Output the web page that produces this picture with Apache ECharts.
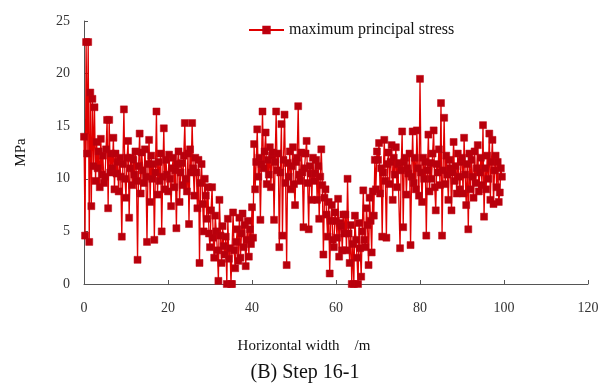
<!DOCTYPE html>
<html>
<head>
<meta charset="utf-8">
<script src="https://cdn.jsdelivr.net/npm/echarts@6/dist/echarts.min.js"></script>
<style>
  html, body { margin: 0; padding: 0; background: #fff; }
  #chart { width: 605px; height: 385px; }
</style>
</head>
<body>
<div id="chart"></div>
<script>
// 水平位置 (m)
const widthM = [
  0, 0.25, 0.5, 0.75, 1, 1.25, 1.5, 1.75, 2, 2.25, 2.5, 2.75, 3, 3.25, 3.5, 3.75, 4, 4.25, 4.5, 4.75,
  5, 5.25, 5.5, 5.75, 6, 6.25, 6.5, 6.75, 7, 7.25, 7.5, 7.75, 8, 8.25, 8.5, 8.75, 9, 9.25, 9.5, 9.75,
  10, 10.25, 10.5, 10.75, 11, 11.25, 11.5, 11.75, 12, 12.25, 12.5, 12.75, 13, 13.25, 13.5, 13.75, 14, 14.25, 14.5, 14.75,
  15, 15.25, 15.5, 15.75, 16, 16.25, 16.5, 16.75, 17, 17.25, 17.5, 17.75, 18, 18.25, 18.5, 18.75, 19, 19.25, 19.5, 19.75,
  20, 20.25, 20.5, 20.75, 21, 21.25, 21.5, 21.75, 22, 22.25, 22.5, 22.75, 23, 23.25, 23.5, 23.75, 24, 24.25, 24.5, 24.75,
  25, 25.25, 25.5, 25.75, 26, 26.25, 26.5, 26.75, 27, 27.25, 27.5, 27.75, 28, 28.25, 28.5, 28.75, 29, 29.25, 29.5, 29.75,
  30, 30.25, 30.5, 30.75, 31, 31.25, 31.5, 31.75, 32, 32.25, 32.5, 32.75, 33, 33.25, 33.5, 33.75, 34, 34.25, 34.5, 34.75,
  35, 35.25, 35.5, 35.75, 36, 36.25, 36.5, 36.75, 37, 37.25, 37.5, 37.75, 38, 38.25, 38.5, 38.75, 39, 39.25, 39.5, 39.75,
  40, 40.25, 40.5, 40.75, 41, 41.25, 41.5, 41.75, 42, 42.25, 42.5, 42.75, 43, 43.25, 43.5, 43.75, 44, 44.25, 44.5, 44.75,
  45, 45.25, 45.5, 45.75, 46, 46.25, 46.5, 46.75, 47, 47.25, 47.5, 47.75, 48, 48.25, 48.5, 48.75, 49, 49.25, 49.5, 49.75,
  50, 50.25, 50.5, 50.75, 51, 51.25, 51.5, 51.75, 52, 52.25, 52.5, 52.75, 53, 53.25, 53.5, 53.75, 54, 54.25, 54.5, 54.75,
  55, 55.25, 55.5, 55.75, 56, 56.25, 56.5, 56.75, 57, 57.25, 57.5, 57.75, 58, 58.25, 58.5, 58.75, 59, 59.25, 59.5, 59.75,
  60, 60.25, 60.5, 60.75, 61, 61.25, 61.5, 61.75, 62, 62.25, 62.5, 62.75, 63, 63.25, 63.5, 63.75, 64, 64.25, 64.5, 64.75,
  65, 65.25, 65.5, 65.75, 66, 66.25, 66.5, 66.75, 67, 67.25, 67.5, 67.75, 68, 68.25, 68.5, 68.75, 69, 69.25, 69.5, 69.75,
  70, 70.25, 70.5, 70.75, 71, 71.25, 71.5, 71.75, 72, 72.25, 72.5, 72.75, 73, 73.25, 73.5, 73.75, 74, 74.25, 74.5, 74.75,
  75, 75.25, 75.5, 75.75, 76, 76.25, 76.5, 76.75, 77, 77.25, 77.5, 77.75, 78, 78.25, 78.5, 78.75, 79, 79.25, 79.5, 79.75,
  80, 80.25, 80.5, 80.75, 81, 81.25, 81.5, 81.75, 82, 82.25, 82.5, 82.75, 83, 83.25, 83.5, 83.75, 84, 84.25, 84.5, 84.75,
  85, 85.25, 85.5, 85.75, 86, 86.25, 86.5, 86.75, 87, 87.25, 87.5, 87.75, 88, 88.25, 88.5, 88.75, 89, 89.25, 89.5, 89.75,
  90, 90.25, 90.5, 90.75, 91, 91.25, 91.5, 91.75, 92, 92.25, 92.5, 92.75, 93, 93.25, 93.5, 93.75, 94, 94.25, 94.5, 94.75,
  95, 95.25, 95.5, 95.75, 96, 96.25, 96.5, 96.75, 97, 97.25, 97.5, 97.75, 98, 98.25, 98.5, 98.75, 99, 99.25, 99.5
]

// 最大主应力 (MPa)
const maxStress = [
  14.0, 4.6, 23.0, 12.4, 23.0, 4.0, 18.2, 7.4, 17.6, 11.2, 16.8, 9.8, 13.5, 11.0, 12.6, 9.2, 13.8, 10.4, 12.2, 9.6,
  10.2, 12.8, 15.6, 7.2, 15.6, 10.6, 12.4, 11.0, 13.9, 9.0, 12.4, 10.5, 11.6, 8.8, 12.0, 10.2, 4.5, 11.4, 16.6, 10.0,
  8.2, 12.0, 13.6, 6.3, 11.0, 12.0, 9.4, 11.8, 10.4, 12.6, 9.8, 2.3, 11.2, 14.3, 8.6, 12.5, 10.8, 9.6, 12.8, 10.2,
  4.0, 11.4, 13.7, 7.8, 12.2, 10.0, 11.4, 4.2, 10.6, 16.4, 8.5, 11.6, 9.8, 12.4, 5.0, 10.2, 14.8, 9.0, 11.8, 10.4,
  8.8, 12.3, 10.0, 7.4, 11.0, 12.0, 9.2, 10.8, 5.3, 11.4, 12.6, 7.8, 10.6, 11.5, 9.4, 12.2, 15.3, 10.0, 8.8, 12.4,
  5.7, 12.8, 10.6, 15.3, 11.0, 8.4, 12.0, 10.6, 7.2, 11.8, 2.0, 9.6, 11.4, 7.6, 5.0, 10.0, 8.4, 6.2, 9.2, 4.8,
  3.5, 7.0, 9.2, 4.4, 2.5, 6.5, 5.0, 3.2, 0.3, 8.0, 4.6, 2.0, 5.5, 3.6, 2.8, 4.5, 0.0, 6.2, 2.4, 3.4,
  0.0, 0.0, 6.8, 3.2, 1.5, 4.0, 5.2, 2.2, 6.3, 2.5, 4.8, 6.7, 3.5, 5.6, 1.7, 4.2, 6.0, 2.6, 5.2, 3.8,
  7.3, 4.4, 13.3, 9.0, 11.6, 14.7, 10.2, 12.0, 6.1, 11.4, 16.4, 11.0, 12.6, 14.4, 9.5, 11.8, 10.4, 13.0, 9.2, 12.2,
  12.5, 6.1, 11.6, 16.4, 10.8, 12.4, 3.5, 10.6, 15.2, 4.6, 11.8, 16.1, 9.6, 1.8, 11.5, 10.2, 12.6, 9.0, 11.2, 13.0,
  9.5, 7.5, 11.6, 12.0, 16.9, 10.4, 9.8, 12.5, 10.6, 5.4, 11.0, 12.4, 13.6, 9.6, 5.2, 11.2, 10.5, 8.0, 12.0, 9.8,
  10.5, 11.8, 8.0, 11.2, 6.2, 10.2, 12.8, 9.4, 2.8, 8.2, 9.0, 6.6, 4.5, 7.8, 1.0, 6.0, 7.5, 4.2, 3.5, 6.8,
  6.0, 4.4, 8.1, 2.6, 5.8, 5.5, 3.2, 6.6, 4.8, 6.6, 3.2, 10.0, 4.8, 2.0, 5.6, 0.0, 3.8, 0.0, 6.5, 4.2,
  2.5, 0.0, 5.8, 3.4, 0.7, 5.0, 8.9, 4.2, 3.5, 7.2, 5.6, 1.8, 8.2, 6.0, 3.0, 8.8, 6.5, 11.8, 9.0, 12.6,
  11.8, 13.4, 8.6, 11.0, 4.5, 10.6, 13.7, 9.8, 4.4, 11.4, 12.5, 9.5, 11.6, 13.2, 8.0, 12.0, 10.4, 13.0, 9.2, 11.4,
  11.5, 3.4, 10.8, 14.5, 5.4, 11.6, 12.0, 8.5, 11.0, 10.5, 12.4, 3.7, 10.2, 14.5, 9.6, 12.0, 9.0, 14.6, 11.0, 8.4,
  19.5, 10.6, 7.8, 12.0, 10.0, 11.6, 4.6, 10.8, 14.2, 8.8, 11.5, 10.0, 12.4, 14.6, 9.2, 7.0, 11.4, 10.6, 12.8, 9.4,
  17.2, 4.6, 10.8, 15.8, 9.5, 12.2, 10.4, 8.0, 11.8, 11.0, 7.0, 10.6, 13.5, 9.8, 11.2, 8.6, 12.4, 10.2, 9.0, 11.6,
  12.0, 8.6, 13.9, 10.4, 7.5, 11.4, 5.2, 12.4, 9.0, 11.8, 10.2, 8.2, 12.6, 9.6, 11.0, 13.2, 8.8, 10.6, 12.0, 9.4,
  15.1, 6.4, 11.0, 9.0, 12.2, 10.0, 14.3, 8.0, 11.6, 13.7, 7.6, 10.8, 12.2, 9.2, 11.6, 7.8, 8.7, 11.0, 10.2
]

const seriesName = 'maximum principal stress'
const SERIF = '"Liberation Serif", "Times New Roman", serif'

const chart = echarts.init(document.getElementById('chart'))

chart.setOption({
    animation: false,
    backgroundColor: '#fff',
    title: {
        text: '(B) Step 16-1',
        left: 300,
        textAlign: 'center',
        top: 358,
        textStyle: { fontFamily: SERIF, fontSize: 20, fontWeight: 'normal', color: '#111' }
    },
    legend: {
        left: 243,
        top: 17,
        itemWidth: 35,
        itemHeight: 8,
        itemGap: 0,
        data: [seriesName],
        textStyle: { fontFamily: SERIF, fontSize: 16, color: '#111' }
    },
    grid: { left: 84, right: 17, top: 21, bottom: 101 },
    xAxis: {
        type: 'value',
        min: 0,
        max: 120,
        interval: 20,
        name: 'Horizontal width    /m',
        nameLocation: 'middle',
        nameGap: 55,
        nameTextStyle: { fontFamily: SERIF, fontSize: 15, color: '#111', padding: [0, 64, 0, 0] },
        axisLine: { lineStyle: { color: '#555', width: 1 } },
        axisTick: { inside: true, length: 4, lineStyle: { color: '#555' } },
        axisLabel: { fontFamily: SERIF, fontSize: 14, color: '#333', margin: 17 },
        splitLine: { show: false }
    },
    yAxis: {
        type: 'value',
        min: 0,
        max: 25,
        interval: 5,
        name: 'MPa',
        nameLocation: 'middle',
        nameRotate: 90,
        nameGap: 55,
        nameTextStyle: { fontFamily: SERIF, fontSize: 15, color: '#111' },
        axisLine: { show: true, lineStyle: { color: '#555', width: 1 } },
        axisTick: { show: true, inside: true, length: 4, lineStyle: { color: '#555' } },
        axisLabel: { fontFamily: SERIF, fontSize: 14, color: '#333', margin: 14 },
        splitLine: { show: false }
    },
    series: [{
        name: seriesName,
        type: 'line',
        data: widthM.map((x, i) => [x, maxStress[i]]),
        symbol: 'rect',
        symbolSize: 7,
        showAllSymbol: true,
        clip: false,
        lineStyle: { color: '#e00000', width: 1.3 },
        itemStyle: { color: '#b8000c', borderColor: '#c00010', borderWidth: 0.5 }
    }]
})
</script>
</body>
</html>
